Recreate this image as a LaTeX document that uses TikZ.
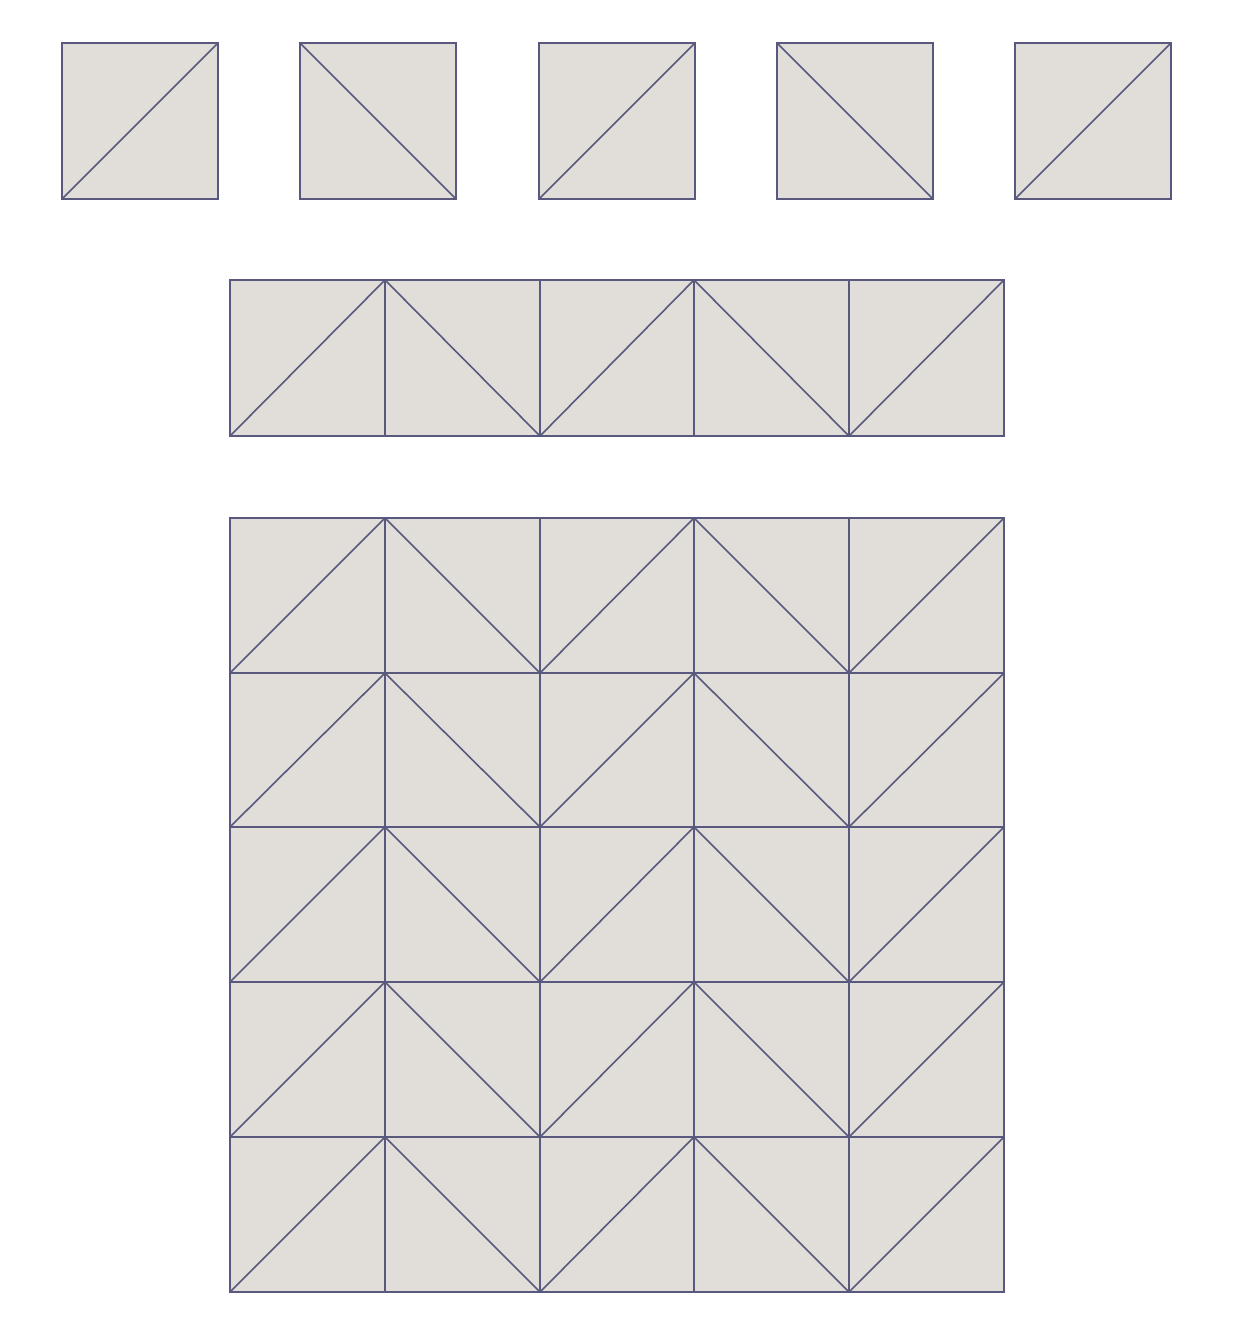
\documentclass[tikz,border=0pt]{standalone}
\definecolor{tilefill}{HTML}{E1DDD8}
\definecolor{tileline}{HTML}{595980}
\tikzset{tileedge/.style={draw=tileline,line width=1.6pt,line join=miter}}
\begin{document}
\begin{tikzpicture}[x=1pt,y=-1pt]
\useasboundingbox (0,0) rectangle (1240,1338);
% fills first
\foreach \x in {62,300,539,777,1015}{
  \fill[tilefill] (\x,43) rectangle ++(156,156);
}
\fill[tilefill] (230,280) rectangle (1004,436);
\fill[tilefill] (230,518) rectangle (1004,1292);
% top row of separate tiles
\foreach \i/\x in {0/62,1/300,2/539,3/777,4/1015}{
  \draw[tileedge] (\x,43) rectangle ++(156,156);
  \ifodd\i
    \draw[tileedge] (\x,43) -- ++(156,156);
  \else
    \draw[tileedge] (\x,199) -- ++(156,-156);
  \fi
}
% middle strip
\foreach \i/\xa/\xb in {0/230/385,1/385/540,2/540/694,3/694/849,4/849/1004}{
  \draw[tileedge] (\xa,280) rectangle (\xb,436);
  \ifodd\i
    \draw[tileedge] (\xa,280) -- (\xb,436);
  \else
    \draw[tileedge] (\xa,436) -- (\xb,280);
  \fi
}
% big grid
\foreach \ya/\yb in {518/673,673/827,827/982,982/1137,1137/1292}{
\foreach \i/\xa/\xb in {0/230/385,1/385/540,2/540/694,3/694/849,4/849/1004}{
  \draw[tileedge] (\xa,\ya) rectangle (\xb,\yb);
  \ifodd\i
    \draw[tileedge] (\xa,\ya) -- (\xb,\yb);
  \else
    \draw[tileedge] (\xa,\yb) -- (\xb,\ya);
  \fi
}}
\end{tikzpicture}
\end{document}
